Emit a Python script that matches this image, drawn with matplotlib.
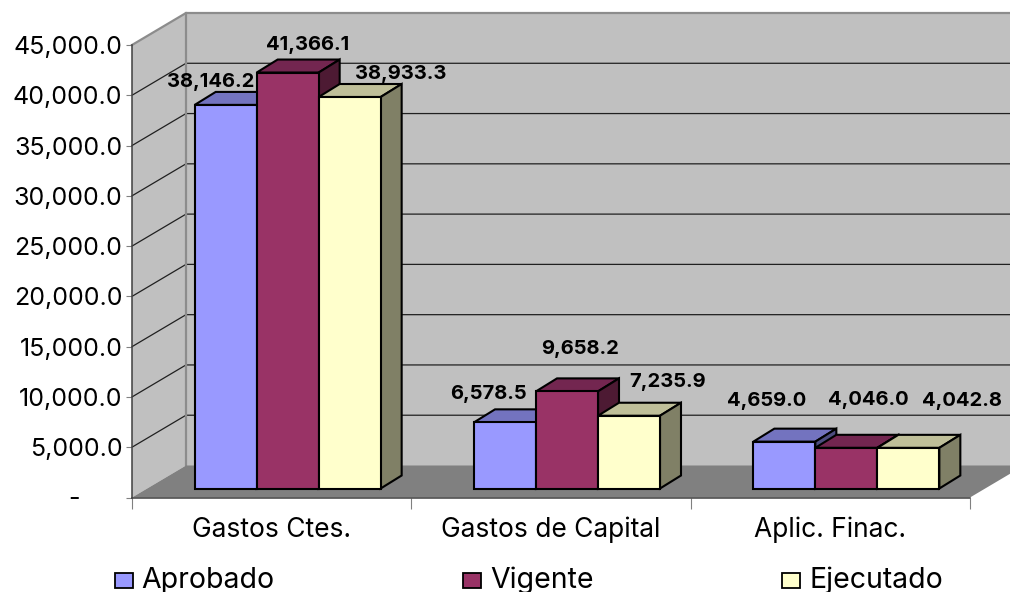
import matplotlib
matplotlib.use('Agg')
import matplotlib.pyplot as plt
from matplotlib.patches import Polygon, Rectangle

categories = ['Gastos Ctes.', 'Gastos de Capital', 'Aplic. Finac.']
series_names = ['Aprobado', 'Vigente', 'Ejecutado']
aprobado = [38146.2, 6578.5, 4659.0]
vigente = [41366.1, 9658.2, 4046.0]
ejecutado = [38933.3, 7235.9, 4042.8]
y_ticks = [0, 5000, 10000, 15000, 20000, 25000, 30000, 35000, 40000, 45000]

front_colors = ['#9999FF', '#993366', '#FFFFCC']
top_colors = ['#7373BF', '#732650', '#BFBF99']
side_colors = ['#4D4D80', '#4D1A33', '#808066']

# label offsets from the bar's top-centre, in pixels (one row per series)
label_dx = [[-15, -17, -18], [20, 13, 22], [51, 39, 54]]
label_dy = [[23, 28, 41], [28, 42, 48], [23, 34, 47]]

plt.rcParams['font.family'] = ['Inter', 'Liberation Sans', 'DejaVu Sans']

fig = plt.figure(figsize=(10.10, 5.92), dpi=100)
ax = fig.add_axes([132 / 1010, (592 - 497.5) / 592, 838 / 1010, 452.5 / 592])
ax.set_xlim(0, 3)
ax.set_ylim(0, 45000)
ax.patch.set_visible(False)

# pixel sizes to data units
px_x = 3 / 838
px_y = 45000 / 452.5

wall_dx, wall_dy = 54 * px_x, 32 * px_y
bar_w = 62 * px_x
bar_shift_x, bar_shift_y = 16 * px_x, 9 * px_y
bar_dx, bar_dy = 21 * px_x, 13 * px_y


def poly(points, face, edge='none', lw=0.0, z=1):
    ax.add_patch(Polygon(points, closed=True, facecolor=face, edgecolor=edge,
                         linewidth=lw, zorder=z, clip_on=False, joinstyle='miter'))


# walls and floor
poly([(0, 0), (wall_dx, wall_dy), (wall_dx, 45000 + wall_dy), (0, 45000)], '#C0C0C0', z=0.1)
poly([(wall_dx, wall_dy), (3 + wall_dx, wall_dy), (3 + wall_dx, 45000 + wall_dy), (wall_dx, 45000 + wall_dy)],
     '#C0C0C0', z=0.1)
poly([(0, 0), (3, 0), (3 + wall_dx, wall_dy), (wall_dx, wall_dy)], '#808080', z=0.3)

for t in y_ticks[1:-1]:
    ax.plot([0, wall_dx, 3 + wall_dx], [t, t + wall_dy, t + wall_dy], color='#202020', lw=0.9,
            zorder=0.2, clip_on=False)
ax.plot([0, wall_dx, 3 + wall_dx], [45000, 45000 + wall_dy, 45000 + wall_dy], color='#8C8C8C', lw=1.6,
        zorder=0.25, clip_on=False)
ax.plot([wall_dx, wall_dx], [wall_dy, 45000 + wall_dy], color='#8C8C8C', lw=1.6, zorder=0.25, clip_on=False)

# bars
all_series = [aprobado, vigente, ejecutado]
for s, values in enumerate(all_series):
    z = 2 + s
    for c, v in enumerate(values):
        x0 = c + 0.5 + (s - 1.5) * bar_w + bar_shift_x
        x1 = x0 + bar_w
        y0 = bar_shift_y
        y1 = y0 + v
        poly([(x0, y1), (x1, y1), (x1 + bar_dx, y1 + bar_dy), (x0 + bar_dx, y1 + bar_dy)],
             top_colors[s], 'black', 1.5, z)
        poly([(x1, y0), (x1 + bar_dx, y0 + bar_dy), (x1 + bar_dx, y1 + bar_dy), (x1, y1)],
             side_colors[s], 'black', 1.5, z)
        poly([(x0, y0), (x1, y0), (x1, y1), (x0, y1)], front_colors[s], 'black', 1.5, z)
        ax.text((x0 + x1) / 2 + label_dx[s][c] * px_x, y1 + label_dy[s][c] * px_y, f'{v:,.1f}',
                ha='center', va='center', fontsize=14.5, fontweight='bold', color='black',
                zorder=10, clip_on=False)

# axes
for name in ['top', 'right']:
    ax.spines[name].set_visible(False)
for name in ['left', 'bottom']:
    ax.spines[name].set_color('#404040')
    ax.spines[name].set_linewidth(1.1)
    ax.spines[name].set_zorder(5)

ax.set_yticks(y_ticks)
ax.set_yticklabels([f'{t:,.1f}' if t else '-' + ' ' * 6 for t in y_ticks])
ax.tick_params(axis='y', length=4, color='#808080', labelsize=18, pad=3)
ax.set_xticks([0, 1, 2, 3])
ax.set_xticklabels([])
ax.tick_params(axis='x', which='major', length=8, color='#808080')
ax.set_xticks([0.5, 1.5, 2.5], minor=True)
ax.set_xticklabels(categories, minor=True, fontsize=19)
ax.tick_params(axis='x', which='minor', length=0, pad=14)

# legend
legend_box_x = [115, 463, 782]
legend_text_x = [141, 490, 810]
for name, face, bx, tx in zip(series_names, front_colors, legend_box_x, legend_text_x):
    fig.add_artist(Rectangle((bx / 1010, 1 - 588 / 592), 18 / 1010, 15 / 592, transform=fig.transFigure,
                             facecolor=face, edgecolor='black', linewidth=1.3))
    fig.text(tx / 1010, 1 - 580 / 592, name, ha='left', va='center', fontsize=20.5, color='black')

fig.savefig('out.png', dpi=100, facecolor='white')
